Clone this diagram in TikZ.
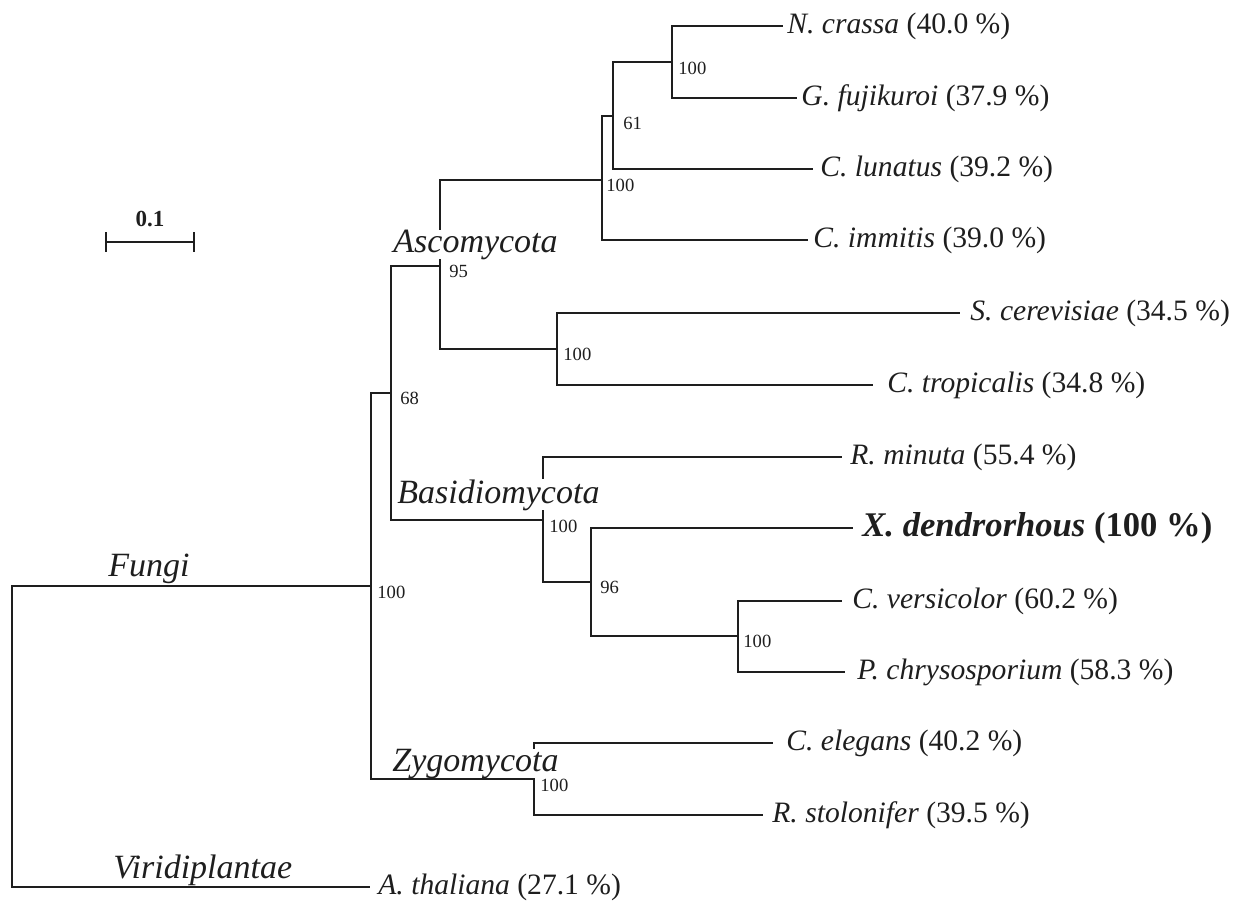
\documentclass[tikz,border=0pt]{standalone}
\usepackage{fontspec}
\setmainfont{Liberation Serif}
\definecolor{ink}{HTML}{1E1E1E}
\begin{document}
\begin{tikzpicture}[x=0.5pt,y=-0.5pt,
  br/.style={draw=ink,line width=1pt},
  leaf/.style={anchor=west,inner sep=0pt,text=ink,font=\fontsize{14.8pt}{16pt}\selectfont},
  boot/.style={anchor=west,inner sep=0pt,text=ink,font=\fontsize{9.3pt}{10pt}\selectfont},
  clade/.style={anchor=base west,inner sep=0pt,fill=white,text=ink,font=\fontsize{17pt}{19pt}\selectfont\itshape}]
\useasboundingbox (0,0) rectangle (1236,901);
% internal nodes
\coordinate (R) at (12,736);
\coordinate (F) at (371,586);
\coordinate (n68) at (391,393);
\coordinate (n95) at (440,266);
\coordinate (nA) at (602,180);
\coordinate (n61) at (613,116);
\coordinate (nN) at (672,62);
\coordinate (nS) at (557,349);
\coordinate (nB) at (543,520);
\coordinate (n96) at (591,582);
\coordinate (nC) at (738,636);
\coordinate (nZ) at (534,779);
% leaf ends
\coordinate (eNc) at (783,26);
\coordinate (eGf) at (797,98);
\coordinate (eCl) at (813,169);
\coordinate (eCi) at (808,240);
\coordinate (eSc) at (960,313);
\coordinate (eCt) at (873,385);
\coordinate (eRm) at (842,457);
\coordinate (eXd) at (853,528);
\coordinate (eCv) at (842,601);
\coordinate (ePc) at (845,672);
\coordinate (eCe) at (773,743);
\coordinate (eRs) at (763,815);
\coordinate (eAt) at (370,887);
% leaf labels
\node[leaf] (tNc) at (787,26) {\textit{N. crassa} (40.0 \%)};
\node[leaf] (tGf) at (801,98) {\textit{G. fujikuroi} (37.9 \%)};
\node[leaf] (tCl) at (820,169) {\textit{C. lunatus} (39.2 \%)};
\node[leaf] (tCi) at (813,240) {\textit{C. immitis} (39.0 \%)};
\node[leaf] (tSc) at (970,313) {\textit{S. cerevisiae} (34.5 \%)};
\node[leaf] (tCt) at (887,385) {\textit{C. tropicalis} (34.8 \%)};
\node[leaf] (tRm) at (850,457) {\textit{R. minuta} (55.4 \%)};
\node[leaf,font=\fontsize{17.3pt}{19pt}\selectfont] (tXd) at (862,528) {\textbf{\textit{X. dendrorhous}} \textbf{(100 \%)}};
\node[leaf] (tCv) at (852,601) {\textit{C. versicolor} (60.2 \%)};
\node[leaf] (tPc) at (857,672) {\textit{P. chrysosporium} (58.3 \%)};
\node[leaf] (tCe) at (786,743) {\textit{C. elegans} (40.2 \%)};
\node[leaf] (tRs) at (772,815) {\textit{R. stolonifer} (39.5 \%)};
\node[leaf] (tAt) at (378,887) {\textit{A. thaliana} (27.1 \%)};
% branches hidden partly by clade labels
\draw[br] (n95) |- (nA);
\draw[br] (n95) |- (nS);
\draw[br] (nB) |- (eRm);
\draw[br] (nB) |- (n96);
\draw[br] (nZ) |- (eCe);
\draw[br] (nZ) |- (eRs);
% clade labels
\node[clade] (lAsc) at (393,252) {Ascomycota};
\node[clade] (lBas) at (397,503) {Basidiomycota};
\node[clade] (lZyg) at (392,771) {Zygomycota};
\node[clade,fill=none] (lFun) at (108,576) {Fungi};
\node[clade,fill=none] (lVir) at (113,878) {Viridiplantae};
% other branches
\draw[br] (R) |- (F);
\draw[br] (R) |- (eAt);
\draw[br] (F) |- (n68);
\draw[br] (F) |- (nZ);
\draw[br] (n68) |- (n95);
\draw[br] (n68) |- (nB);
\draw[br] (nA) |- (n61);
\draw[br] (nA) |- (eCi);
\draw[br] (n61) |- (nN);
\draw[br] (n61) |- (eCl);
\draw[br] (nN) |- (eNc);
\draw[br] (nN) |- (eGf);
\draw[br] (nS) |- (eSc);
\draw[br] (nS) |- (eCt);
\draw[br] (n96) |- (eXd);
\draw[br] (n96) |- (nC);
\draw[br] (nC) |- (eCv);
\draw[br] (nC) |- (ePc);
% bootstrap values
\node[boot] (bN) at (678,68) {100};
\node[boot] (b61) at (623,123) {61};
\node[boot] (bA) at (606,185) {100};
\node[boot] (b95) at (449,271) {95};
\node[boot] (bS) at (563,354) {100};
\node[boot] (b68) at (400,398) {68};
\node[boot] (bF) at (377,592) {100};
\node[boot] (bB) at (549,526) {100};
\node[boot] (b96) at (600,587) {96};
\node[boot] (bC) at (743,641) {100};
\node[boot] (bZ) at (540,785) {100};
% scale bar
\coordinate (sL) at (106,242);
\coordinate (sR) at (194,242);
\draw[br] (sL) -- (sR);
\draw[br] (sL) ++(0,-10) -- ++(0,20);
\draw[br] (sR) ++(0,-10) -- ++(0,20);
\node[anchor=base,inner sep=0pt,text=ink,font=\fontsize{11.5pt}{13pt}\selectfont\bfseries] (sc) at (150,226) {0.1};
\end{tikzpicture}
\end{document}
